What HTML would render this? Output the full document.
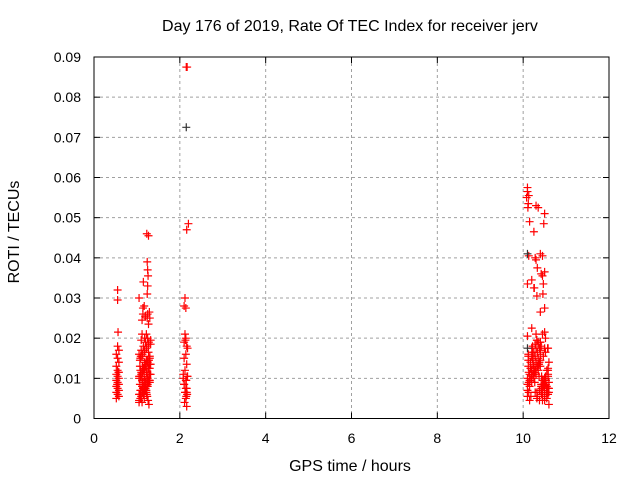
<!DOCTYPE html>
<html><head><meta charset="utf-8"><style>
body{margin:0;background:#fff;}
svg text{font-family:"Liberation Sans",sans-serif;font-size:14px;fill:#000;}
svg text.big{font-size:16px;}
</style></head><body>
<svg id="c" width="640" height="480" xmlns="http://www.w3.org/2000/svg">
<rect width="640" height="480" fill="#fff"/>
<text class="big" x="350" y="31" text-anchor="middle">Day 176 of 2019, Rate Of TEC Index for receiver jerv</text>
<text class="big" x="350" y="471" text-anchor="middle">GPS time / hours</text>
<text class="big" x="19" y="232" text-anchor="middle" transform="rotate(-90 19 232)">ROTI / TECUs</text>
<g id="grid"></g><g id="axes"></g><g id="marks"></g>
</svg>
<script>
const xTicks=[0,2,4,6,8,10,12];
const yTicks=[0,0.01,0.02,0.03,0.04,0.05,0.06,0.07,0.08,0.09];
const yTickLabels=["0","0.01","0.02","0.03","0.04","0.05","0.06","0.07","0.08","0.09"];
const redT=[
0.52,0.58,0.55,0.52,0.58,0.55,0.52,0.58,0.55,0.52,0.58,0.55,0.52,0.58,0.55,0.52,0.58,0.55,0.52,0.58,0.55,0.56,0.55,0.55,0.54,0.57,
1.05,1.1,1.15,1.2,1.25,1.3,1.05,1.1,1.15,1.2,1.25,1.3,1.05,1.1,1.15,1.2,1.25,1.3,1.05,1.1,1.15,1.2,1.25,1.3,1.05,1.1,1.15,1.2,1.25,1.3,1.05,1.1,1.15,1.2,1.25,1.3,1.08,1.13,1.18,1.23,1.28,1.08,1.13,1.18,1.23,1.28,1.08,1.13,1.18,1.23,1.28,1.08,1.13,1.18,1.23,1.28,1.08,1.13,1.18,1.23,1.28,1.12,1.18,1.22,1.27,1.2,1.25,1.3,1.12,1.15,1.1,1.14,1.17,1.05,1.24,1.25,1.26,1.25,1.24,1.23,1.27,1.27,1.26,1.24,1.22,1.2,
1.07,1.12,1.17,1.22,1.27,1.32,1.07,1.12,1.17,1.22,1.27,1.32,1.07,1.12,1.17,1.22,1.27,1.32,1.07,1.12,1.17,1.22,1.27,1.32,1.09,1.14,1.19,1.24,1.29,1.09,1.14,1.19,1.24,1.29,1.16,1.18,1.2,1.14,
2.08,2.12,2.16,2.1,2.14,2.18,2.08,2.12,2.16,2.1,2.14,2.18,2.1,2.14,2.12,2.16,2.1,2.14,2.12,2.16,2.2,2.15,2.17,2.15,2.16,2.14,2.15,2.17,2.1,2.13,2.16,2.11,2.14,2.17,
10.1,10.15,10.2,10.25,10.3,10.35,10.4,10.45,10.5,10.55,10.6,10.1,10.15,10.2,10.25,10.3,10.35,10.4,10.45,10.5,10.55,10.6,10.1,10.15,10.2,10.25,10.3,10.35,10.4,10.45,10.5,10.55,10.6,10.1,10.15,10.2,10.25,10.3,10.35,10.4,10.45,10.5,10.55,10.6,10.12,10.22,10.32,10.42,10.52,10.58,10.12,10.22,10.32,10.42,10.52,10.58,10.12,10.22,10.32,10.42,10.52,10.58,10.35,10.4,10.45,10.5,10.55,10.6,10.45,10.5,10.55,10.58,10.38,10.42,
10.13,10.18,10.23,10.28,10.33,10.38,10.43,10.48,10.53,10.58,10.13,10.18,10.23,10.28,10.33,10.38,10.43,10.48,10.53,10.58,10.13,10.18,10.23,10.28,10.33,10.38,10.43,10.48,10.53,10.58,10.17,10.27,10.37,10.47,10.57,10.17,10.27,10.37,10.47,10.57,10.2,10.3,10.4,10.5,
10.1,10.12,10.08,10.1,10.12,10.13,10.1,10.11,10.15,10.25,10.3,10.35,10.28,10.4,10.45,10.5,10.33,10.45,10.48,10.5,10.42,10.3,10.13,10.1,10.2,10.25,10.26,10.32,10.46,10.47,10.5,10.28,10.32,10.4,10.2,10.52,10.55,10.6,10.5,10.52];
const redV=[
0.005,0.0055,0.006,0.0065,0.007,0.0075,0.008,0.0085,0.009,0.0095,0.01,0.0105,0.011,0.0115,0.012,0.013,0.014,0.015,0.016,0.017,0.018,0.0215,0.0295,0.032,0.0085,0.0115,
0.004,0.005,0.006,0.007,0.008,0.009,0.0045,0.0055,0.0065,0.0075,0.0085,0.0095,0.01,0.011,0.012,0.013,0.014,0.015,0.0105,0.0115,0.0125,0.0135,0.0145,0.0155,0.006,0.007,0.008,0.009,0.01,0.011,0.016,0.017,0.018,0.019,0.02,0.0125,0.005,0.0065,0.0075,0.0085,0.0095,0.0105,0.0115,0.0125,0.0135,0.0145,0.007,0.008,0.009,0.01,0.011,0.015,0.016,0.017,0.018,0.019,0.012,0.013,0.014,0.006,0.0035,0.021,0.02,0.021,0.0095,0.0255,0.026,0.025,0.0245,0.034,0.0195,0.0275,0.028,0.03,0.031,0.033,0.0355,0.037,0.039,0.046,0.0455,0.0235,
0.0045,0.0055,0.0065,0.0075,0.0085,0.0095,0.0105,0.0115,0.0125,0.0135,0.0145,0.0155,0.0165,0.0175,0.0185,0.0195,0.006,0.008,0.005,0.007,0.009,0.011,0.013,0.004,0.0125,0.0145,0.0165,0.0185,0.0105,0.0075,0.0095,0.0115,0.0135,0.0155,0.026,0.0255,0.025,0.0265,
0.006,0.007,0.008,0.009,0.01,0.0065,0.0075,0.0085,0.0095,0.0105,0.011,0.012,0.0135,0.015,0.016,0.0175,0.019,0.02,0.021,0.018,0.028,0.0275,0.030,0.047,0.0485,0.0875,0.0875,0.0055,0.0065,0.0075,0.0095,0.0105,0.0085,0.0195,
0.003,0.004,0.005,0.006,0.007,0.008,0.009,0.01,0.011,0.012,0.013,0.0045,0.0055,0.0065,0.0075,0.0085,0.0095,0.0105,0.0115,0.0125,0.0135,0.0145,0.006,0.007,0.008,0.009,0.01,0.011,0.012,0.013,0.014,0.015,0.016,0.0095,0.0085,0.0075,0.0065,0.0055,0.0045,0.0155,0.0165,0.0175,0.0185,0.019,0.008,0.01,0.012,0.014,0.016,0.018,0.005,0.007,0.009,0.011,0.013,0.015,0.0065,0.0085,0.0105,0.0125,0.0145,0.0165,0.0195,0.018,0.02,0.0175,0.019,0.017,0.0055,0.0045,0.0065,0.0035,0.021,0.0215,
0.005,0.006,0.007,0.008,0.009,0.01,0.011,0.012,0.013,0.014,0.0075,0.0085,0.0095,0.0105,0.0115,0.0125,0.0135,0.0065,0.0055,0.0045,0.0105,0.0095,0.0085,0.0075,0.0065,0.0055,0.0145,0.0155,0.0165,0.0175,0.006,0.008,0.01,0.012,0.014,0.0115,0.0135,0.0155,0.0175,0.0125,0.009,0.0105,0.0085,0.0075,
0.0225,0.021,0.0265,0.0275,0.0205,0.0155,0.055,0.0565,0.0535,0.0555,0.0575,0.0525,0.049,0.0465,0.053,0.0525,0.04,0.041,0.0405,0.051,0.0375,0.0355,0.0485,0.0365,0.036,0.0395,0.0405,0.0335,0.0345,0.0325,0.0325,0.0305,0.031,0.0335,0.0175,0.0185,0.0195,0.019,0.0175,0.0165];
const blackT=[2.15,10.1,10.1];
const blackV=[0.0725,0.041,0.0175];
const X0=94,X1=609,Y0=418.5,Y1=57,XMAX=12,YMAX=0.09;
const xs=t=>X0+t/XMAX*(X1-X0);
const ys=v=>Y0-v/YMAX*(Y0-Y1);
const NS="http://www.w3.org/2000/svg";
function mk(tag,attrs,parent){const e=document.createElementNS(NS,tag);for(const k in attrs)e.setAttribute(k,attrs[k]);parent.appendChild(e);return e;}
const grid=document.getElementById('grid'),axes=document.getElementById('axes'),marks=document.getElementById('marks');
xTicks.forEach((t,i)=>{const x=xs(t);
 if(t>0&&t<XMAX){const g=mk('line',{x1:x,x2:x,y1:Y1,y2:Y0,stroke:'#a0a0a0','stroke-dasharray':'3,3','stroke-width':1},grid);
 
 }
 mk('line',{x1:x,x2:x,y1:Y0,y2:Y0-6,stroke:'#000'},axes);
 mk('line',{x1:x,x2:x,y1:Y1,y2:Y1+6,stroke:'#000'},axes);
 const tx=mk('text',{x:x,y:443,'text-anchor':'middle'},axes);tx.textContent=String(t);
 
 
});
yTicks.forEach((v,i)=>{const y=ys(v);
 if(v>0&&v<YMAX-1e-9){const g=mk('line',{x1:X0,x2:X1,y1:y,y2:y,stroke:'#a0a0a0','stroke-dasharray':'3,3','stroke-width':1},grid);
 
 }
 mk('line',{x1:X0,x2:X0+6,y1:y,y2:y,stroke:'#000'},axes);
 mk('line',{x1:X1,x2:X1-6,y1:y,y2:y,stroke:'#000'},axes);
 const tx=mk('text',{x:81,y:y+5,'text-anchor':'end'},axes);tx.textContent=yTickLabels[i];
 
 
});
const fr=mk('rect',{x:X0,y:Y1,width:X1-X0,height:Y0-Y1,fill:'none',stroke:'#000','stroke-width':1},axes);


function plus(t,v,col){const x=xs(t),y=ys(v);
 const p=mk('path',{d:`M${x-4},${y}H${x+4}M${x},${y-4}V${y+4}`,stroke:col,'stroke-width':1.2,fill:'none'},marks);
 
 }
redT.forEach((t,i)=>plus(t,redV[i],'#ff0000'));
blackT.forEach((t,i)=>plus(t,blackV[i],'#333333'));
</script>
</body></html>
